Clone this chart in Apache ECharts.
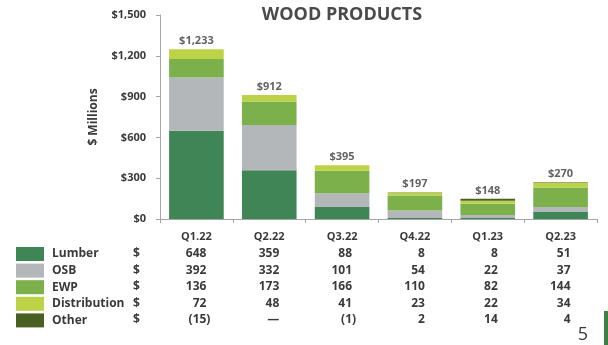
<!DOCTYPE html>
<html>
<head>
<meta charset="utf-8">
<script src="https://cdn.jsdelivr.net/npm/echarts@6/dist/echarts.min.js"></script>
<style>
html,body{margin:0;padding:0;background:#fff;}
#main{width:608px;height:345px;}
</style>
</head>
<body>
<div id="main"></div>
<script>
const categories = ['Q1.22','Q2.22','Q3.22','Q4.22','Q1.23','Q2.23'];
const lumber = [648, 359, 88, 8, 8, 51];
const osb = [392, 332, 101, 54, 22, 37];
const ewp = [136, 173, 166, 110, 82, 144];
const distribution = [72, 48, 41, 23, 22, 34];
const other = [-15, null, -1, 2, 14, 4];
const totals = [1233, 912, 395, 197, 148, 270];
const seriesNames = ['Lumber', 'OSB', 'EWP', 'Distribution', 'Other'];
const seriesValues = [lumber, osb, ewp, distribution, other];
const colors = ['#3f8556', '#b3b7ba', '#7bb04b', '#bcd347', '#4a6023'];
const yMax = 1500, yStep = 300;

const FONT = '"Open Sans", "Noto Sans", sans-serif';
const TXT = '#3a3a3a';

const positiveTops = categories.map((c, i) =>
  seriesValues.reduce((s, arr) => s + (arr[i] > 0 ? arr[i] : 0), 0));

const chart = echarts.init(document.getElementById('main'), null, {renderer: 'canvas'});

const barSeries = seriesNames.map((name, k) => ({
  name: name,
  type: 'bar',
  stack: 'wp',
  barWidth: '75%',
  clip: true,
  itemStyle: {color: colors[k]},
  emphasis: {disabled: true},
  data: seriesValues[k]
}));

const option = {
  animation: false,
  textStyle: {fontFamily: FONT},
  title: {
    text: 'WOOD PRODUCTS',
    left: 337, top: 1, textAlign: 'center',
    textStyle: {fontFamily: FONT, fontSize: 18, fontWeight: 'bold', color: '#4a4a4a'}
  },
  grid: {left: 160, right: 11, top: 15, bottom: 126, containLabel: false},
  legend: {
    data: seriesNames,
    orient: 'vertical',
    left: 16, top: 247,
    itemWidth: 28, itemHeight: 14, itemGap: 2.6,
    icon: 'rect',
    selectedMode: false,
    padding: 0,
    itemStyle: {borderWidth: 0},
    textStyle: {fontFamily: FONT, fontSize: 12, fontWeight: 'bold', color: TXT, lineHeight: 14, padding: [0, 0, 0, 3]}
  },
  xAxis: {
    type: 'category',
    data: categories,
    axisLine: {lineStyle: {color: '#a6a6a6', width: 1}},
    axisTick: {show: true, length: 4, lineStyle: {color: '#a6a6a6'}},
    axisLabel: {margin: 12, fontFamily: FONT, fontSize: 11, fontWeight: 'bold', color: TXT}
  },
  yAxis: {
    type: 'value',
    min: 0, max: yMax, interval: yStep,
    name: '$ Millions',
    nameLocation: 'middle',
    nameGap: 60,
    nameTextStyle: {fontFamily: FONT, fontSize: 12, fontWeight: 'bold', color: TXT},
    splitLine: {show: false},
    axisLine: {show: true, lineStyle: {color: '#a6a6a6', width: 1}},
    axisTick: {show: true, length: 4, lineStyle: {color: '#a6a6a6'}},
    axisLabel: {
      margin: 14, fontFamily: FONT, fontSize: 11, fontWeight: 'bold', color: TXT,
      formatter: v => '$' + v.toLocaleString('en-US')
    }
  },
  series: barSeries.concat([{
    name: 'Total',
    type: 'scatter',
    symbolSize: 0,
    silent: true,
    data: positiveTops,
    label: {
      show: true, position: 'top', distance: 3,
      fontFamily: FONT, fontSize: 11, fontWeight: 'bold', color: TXT,
      formatter: p => '$' + totals[p.dataIndex].toLocaleString('en-US')
    }
  }])
};
chart.setOption(option);

// data table under the chart
const rowY = [254, 270.5, 287, 303.5, 320];
const graphics = [];
seriesNames.forEach((name, k) => {
  graphics.push({
    type: 'text', x: 133, y: rowY[k],
    style: {text: '$', font: 'bold 12px ' + FONT, fill: TXT, textAlign: 'left', textVerticalAlign: 'middle'}
  });
  categories.forEach((c, i) => {
    const cx = chart.convertToPixel({xAxisIndex: 0}, c);
    const v = seriesValues[k][i];
    let txt, dx;
    if (v === null || v === 0) { txt = '\u2014'; dx = 10; }
    else if (v < 0) { txt = '(' + Math.abs(v) + ')'; dx = 14; }
    else { txt = String(v); dx = 10; }
    graphics.push({
      type: 'text', x: cx + dx, y: rowY[k],
      style: {text: txt, font: 'bold 12px ' + FONT, fill: TXT, textAlign: 'right', textVerticalAlign: 'middle'}
    });
  });
});
graphics.push({
  type: 'text', x: 583, y: 335,
  style: {text: '5', font: '18px ' + FONT, fill: TXT, textAlign: 'center', textVerticalAlign: 'middle'}
});
graphics.push({
  type: 'rect', shape: {x: 604, y: 311, width: 4, height: 34},
  style: {fill: '#3e7d45'}
});
chart.setOption({graphic: graphics});
</script>
</body>
</html>
